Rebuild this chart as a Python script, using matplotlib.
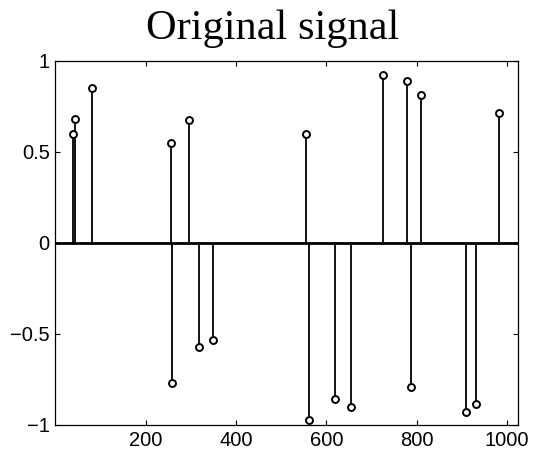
import matplotlib.pyplot as plt

# Sparse signal: positions of the non-zero samples and their amplitudes
positions = [40, 43, 82, 255, 259, 295, 319, 349, 554, 562,
             619, 655, 726, 779, 787, 810, 910, 930, 981]
amplitudes = [0.60, 0.68, 0.85, 0.55, -0.77, 0.675, -0.57, -0.535, 0.598, -0.97,
              -0.86, -0.90, 0.92, 0.89, -0.79, 0.81, -0.93, -0.885, 0.714]

n_samples = 1024
x_ticks = [200, 400, 600, 800, 1000]
y_ticks = [-1, -0.5, 0, 0.5, 1]
y_tick_labels = ['\u22121', '\u22120.5', '0', '0.5', '1']

plt.rcParams['font.family'] = ['Liberation Sans', 'DejaVu Sans']

fig = plt.figure(figsize=(5.34, 4.54), dpi=100)
ax = fig.add_axes([0.1036, 0.0639, 0.8664, 0.8024])

# Stems with open circle markers
markerline, stemlines, baseline = ax.stem(positions, amplitudes,
                                          linefmt='k-', markerfmt='ko', basefmt=' ')
stemlines.set_linewidth(1.3)
markerline.set_markerfacecolor('white')
markerline.set_markeredgecolor('black')
markerline.set_markersize(5)
markerline.set_markeredgewidth(1.4)

# Baseline across the full axis
ax.axhline(0, color='black', linewidth=2.0, zorder=1)

ax.set_xlim(0, n_samples)
ax.set_ylim(-1, 1)
ax.set_xticks(x_ticks)
ax.set_yticks(y_ticks)
ax.set_yticklabels(y_tick_labels)
ax.tick_params(direction='in', top=True, right=True, length=3.5, width=0.8,
               labelsize=14.5, pad=4)
for spine in ax.spines.values():
    spine.set_linewidth(0.9)

fig.text(273 / 534, 0.914, 'Original signal', ha='center', va='baseline',
         fontsize=30.5, family=['Liberation Serif', 'DejaVu Serif'])

fig.savefig('out.png', dpi=100)
